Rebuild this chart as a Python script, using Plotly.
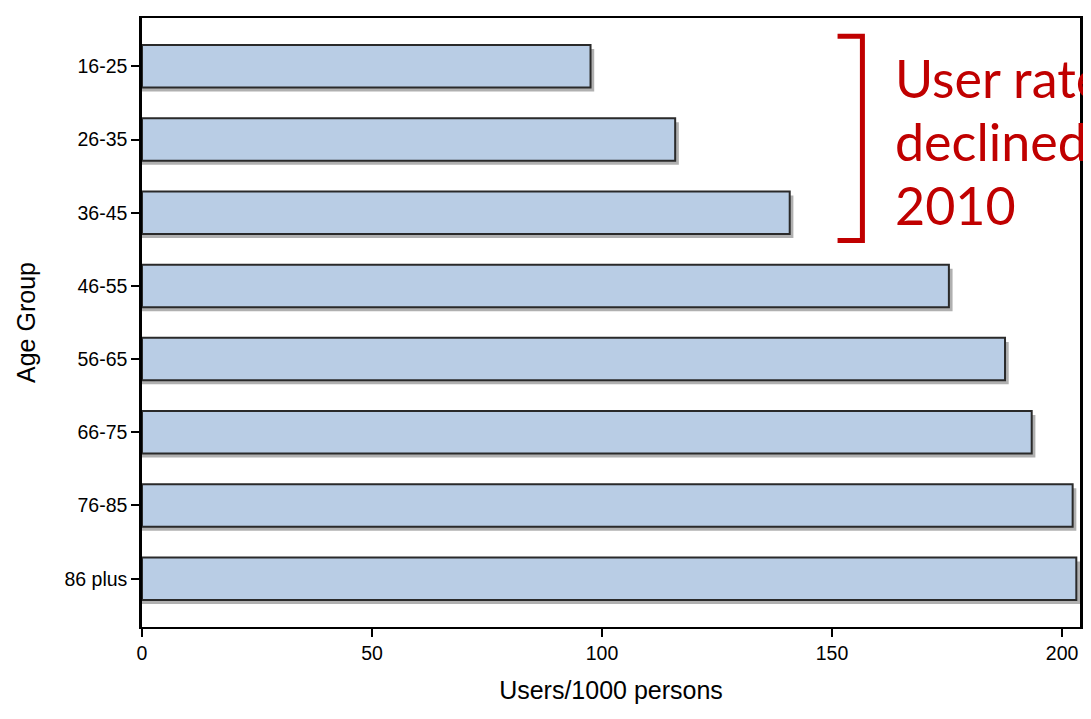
import plotly.graph_objects as go

age_groups = ["16-25", "26-35", "36-45", "46-55", "56-65", "66-75", "76-85", "86 plus"]
users_per_1000 = [97.5, 115.9, 140.8, 175.4, 187.6, 193.4, 202.3, 203.1]
x_ticks = [0, 50, 100, 150, 200]
note_lines = ["User rates", "declined since", "2010"]

BAR_W = 0.58
fig = go.Figure()

# drop shadow
fig.add_trace(go.Bar(
    y=age_groups, x=[v + 0.8 for v in users_per_1000], orientation="h",
    width=BAR_W, offset=-BAR_W / 2 + 0.055,
    marker=dict(color="rgba(150,150,150,0.75)", line=dict(width=0)),
    hoverinfo="skip", showlegend=False,
))
# main bars
fig.add_trace(go.Bar(
    y=age_groups, x=users_per_1000, orientation="h",
    width=BAR_W, offset=-BAR_W / 2,
    marker=dict(color="#b9cde5", line=dict(color="#2a2a2a", width=2)),
    showlegend=False,
))

FONT = "Liberation Sans, Arial, sans-serif"
axis_font = dict(family=FONT, size=19.5, color="#000")

fig.update_layout(
    width=1083, height=711,
    margin=dict(l=134, r=10, t=8, b=92),
    paper_bgcolor="white", plot_bgcolor="white",
    barmode="overlay",
    xaxis=dict(
        range=[0, 203.9], tickvals=x_ticks, ticks="outside", ticklen=8, tickwidth=1.5,
        tickcolor="#000", showgrid=False, zeroline=False,
        showline=True, linecolor="#000", linewidth=2, mirror=True,
        tickfont=axis_font,
        title=dict(text="Users/1000 persons", font=dict(family=FONT, size=25, color="#000"), standoff=18),
    ),
    yaxis=dict(
        categoryorder="array", categoryarray=age_groups,
        range=[7.66, -0.66], ticks="outside", ticklen=8, tickwidth=1.5,
        tickcolor="#000", showgrid=False, zeroline=False,
        showline=True, linecolor="#000", linewidth=2.5, mirror=True,
        tickfont=axis_font,
        title=dict(text="Age Group", font=dict(family=FONT, size=25, color="#000"), standoff=22),
    ),
)

# red bracket annotation
red = "#c00000"
fig.add_shape(type="path", xref="x", yref="y",
              path="M 151.2 -0.41 L 156.6 -0.41 L 156.6 2.38 L 151.2 2.38",
              line=dict(color=red, width=5))

for i, line in enumerate(note_lines):
    fig.add_annotation(
        x=163.3, y=0.16 + 0.865 * i, xref="x", yref="y",
        text=line, showarrow=False, xanchor="left", yanchor="middle",
        font=dict(family="Lato, sans-serif", size=52, color=red),
    )

fig.write_html("out.html")
